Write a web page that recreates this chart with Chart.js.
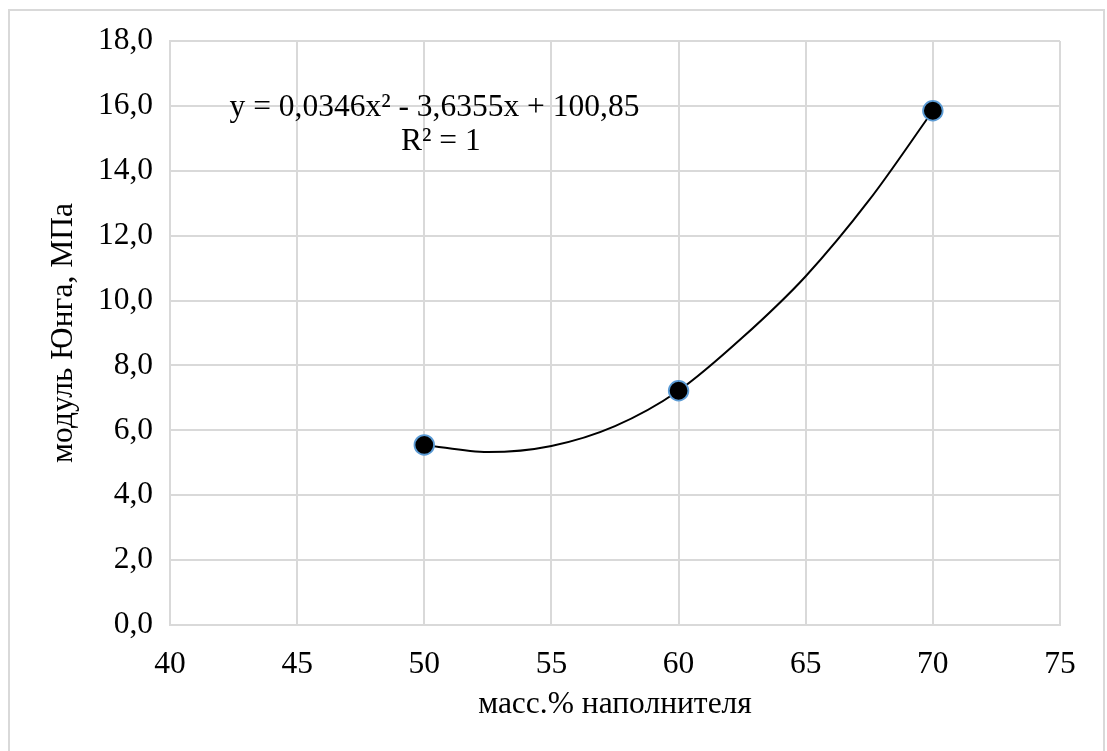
<!DOCTYPE html>
<html>
<head>
<meta charset="utf-8">
<script src="https://cdn.jsdelivr.net/npm/chart.js@4.4.1/dist/chart.umd.min.js"></script>
<style>
  body { margin: 0; background: #fff; }
  #frame { position: absolute; left: 8px; top: 9px; width: 1093px; height: 760px; border: 2px solid #d9d9d9; }
  #chart { position: absolute; left: 0; top: 0; }
</style>
</head>
<body>
<div id="frame"></div>
<canvas id="chart" width="1107" height="751"></canvas>
<script>
// filler content, % by mass
var fillerPct = [50, 60, 70];
// Young's modulus, MPa
var youngMod = [5.55, 7.22, 15.85];
// polynomial trend line
var trendX = [50, 52.5, 55, 57.5, 60, 62.5, 65, 67.5, 70];
var trendY = [5.55, 5.33, 5.52, 6.13, 7.22, 8.85, 10.75, 13.1, 15.85];
var xTicks = [40, 45, 50, 55, 60, 65, 70, 75];
var yTicks = [0, 2, 4, 6, 8, 10, 12, 14, 16, 18];

var eqText = "y = 0,0346x² - 3,6355x + 100,85";
var r2Text = "R² = 1";

var serif = "'Liberation Serif', 'Times New Roman', serif";
var gridColor = "#d9d9d9";
var fontSize = 31.5;

var pointData = fillerPct.map(function (x, i) { return {x: x, y: youngMod[i]}; });
var trendData = trendX.map(function (x, i) { return {x: x, y: trendY[i]}; });

var trendLabel = {
    id: 'trendLabel',
    afterDatasetsDraw: function (chart) {
        var ctx = chart.ctx;
        var xs = chart.scales.x, ys = chart.scales.y;
        ctx.save();
        ctx.fillStyle = "#000";
        ctx.font = fontSize + "px " + serif;
        ctx.textAlign = "center";
        ctx.textBaseline = "middle";
        ctx.fillText(eqText, xs.getPixelForValue(50.4), ys.getPixelForValue(15.95));
        ctx.fillText(r2Text, xs.getPixelForValue(50.65), ys.getPixelForValue(14.9));
        ctx.restore();
    }
};

var ctx = document.getElementById("chart").getContext("2d");
new Chart(ctx, {
    type: 'scatter',
    data: {
        datasets: [{
            label: 'модуль Юнга',
            data: pointData,
            order: 0,
            backgroundColor: '#000',
            borderColor: '#5b9bd5',
            borderWidth: 1.8,
            pointRadius: 9.8,
            pointHoverRadius: 9.8
        }, {
            label: 'тренд',
            data: trendData,
            order: 1,
            showLine: true,
            cubicInterpolationMode: 'monotone',
            borderColor: '#000',
            borderWidth: 2,
            pointRadius: 0,
            pointHoverRadius: 0
        }]
    },
    plugins: [trendLabel],
    options: {
        responsive: false,
        animation: false,
        layout: { padding: { left: 0, top: 41, right: 47, bottom: 0 } },
        plugins: {
            legend: { display: false },
            tooltip: { enabled: false }
        },
        scales: {
            x: {
                type: 'linear',
                min: 40,
                max: 75,
                afterBuildTicks: function (s) { s.ticks = xTicks.map(function (v) { return {value: v}; }); },
                afterFit: function (s) { s.height = 126; },
                grid: { color: gridColor, lineWidth: 2, drawTicks: false },
                border: { color: gridColor, width: 2 },
                ticks: {
                    color: '#000',
                    font: { family: serif, size: fontSize },
                    padding: 21
                },
                title: {
                    display: true,
                    text: 'масс.% наполнителя',
                    color: '#000',
                    font: { family: serif, size: fontSize },
                    padding: { top: 0, bottom: 27 }
                }
            },
            y: {
                type: 'linear',
                min: 0,
                max: 18,
                afterBuildTicks: function (s) { s.ticks = yTicks.map(function (v) { return {value: v}; }); },
                afterFit: function (s) { s.width = 170; },
                grid: { color: gridColor, lineWidth: 2, drawTicks: false },
                border: { color: gridColor, width: 2 },
                ticks: {
                    color: '#000',
                    font: { family: serif, size: fontSize },
                    padding: 17,
                    callback: function (v) { return v.toFixed(1).replace('.', ','); }
                },
                title: {
                    display: true,
                    text: 'модуль Юнга, МПа',
                    color: '#000',
                    font: { family: serif, size: fontSize },
                    padding: { top: 45, bottom: 0 }
                }
            }
        }
    }
});
</script>
</body>
</html>
